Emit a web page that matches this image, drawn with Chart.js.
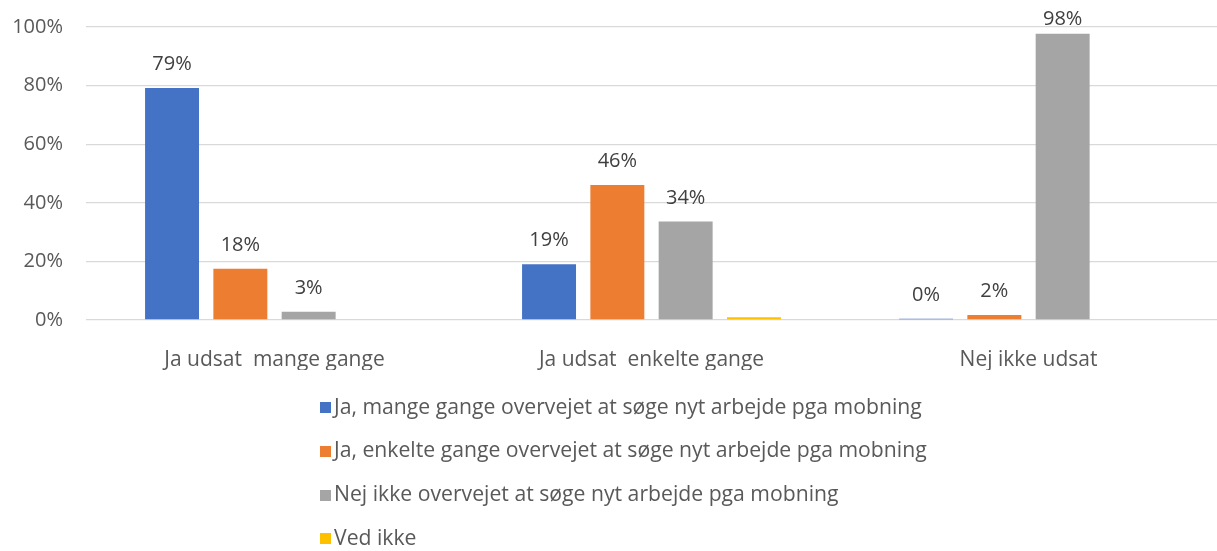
<!DOCTYPE html>
<html>
<head>
<meta charset="utf-8">
<script src="https://cdn.jsdelivr.net/npm/chart.js@4/dist/chart.umd.min.js"></script>
<style>
  html, body { margin: 0; padding: 0; background: #ffffff; }
  #wrap { width: 1217px; height: 551px; position: relative; }
</style>
</head>
<body>
<div id="wrap"><canvas id="c"></canvas></div>
<script>
const categories = ["Ja udsat  mange gange", "Ja udsat  enkelte gange", "Nej ikke udsat"];
const seriesNames = [
  "Ja, mange gange overvejet at søge nyt arbejde pga mobning",
  "Ja, enkelte gange overvejet at søge nyt arbejde pga mobning",
  "Nej ikke overvejet at søge nyt arbejde pga mobning",
  "Ved ikke"
];
const manyTimes = [79.2, 19.0, 0.4];
const fewTimes = [17.5, 46.1, 1.7];
const notConsidered = [2.8, 33.6, 97.7];
const dontKnow = [0, 0.9, 0];
const yTickValues = [0, 20, 40, 60, 80, 100];
const labelledSeries = [true, true, true, false];

const colors = ["#4472C4", "#ED7D31", "#A5A5A5", "#FFC000"];
const FONT = '"Open Sans", "Noto Sans", sans-serif';

const valueLabels = {
  id: 'valueLabels',
  afterDatasetsDraw(chart) {
    const ctx = chart.ctx;
    ctx.save();
    ctx.font = '20px ' + FONT;
    ctx.fillStyle = '#404040';
    ctx.textAlign = 'center';
    ctx.textBaseline = 'alphabetic';
    chart.data.datasets.forEach((ds, i) => {
      if (!labelledSeries[i]) return;
      const meta = chart.getDatasetMeta(i);
      meta.data.forEach((bar, j) => {
        const v = ds.data[j];
        const y = Math.max(bar.y - 18, 25);
        ctx.fillText(Math.round(v) + '%', bar.x, y);
      });
    });
    ctx.restore();
  }
};

const listLegend = {
  id: 'listLegend',
  afterDraw(chart) {
    const ctx = chart.ctx;
    const top = chart.chartArea.bottom + 87.5;
    ctx.save();
    ctx.font = '21.2px ' + FONT;
    ctx.textAlign = 'left';
    ctx.textBaseline = 'middle';
    chart.data.datasets.forEach((ds, i) => {
      const y = top + i * 43.8;
      ctx.fillStyle = ds.backgroundColor;
      ctx.fillRect(320, Math.round(y - 5.5), 11, 11);
      ctx.fillStyle = '#595959';
      ctx.fillText(ds.label, 334, y);
    });
    ctx.restore();
  }
};

const seriesData = [manyTimes, fewTimes, notConsidered, dontKnow];

new Chart(document.getElementById('c'), {
  type: 'bar',
  data: {
    labels: categories,
    datasets: seriesData.map((d, i) => ({
      label: seriesNames[i],
      data: d,
      backgroundColor: colors[i],
      borderWidth: 0,
      categoryPercentage: 0.7247,
      barPercentage: 0.79
    }))
  },
  options: {
    responsive: true,
    maintainAspectRatio: false,
    animation: false,
    layout: { padding: { top: 27, right: 0, bottom: 181, left: 0 } },
    plugins: {
      legend: { display: false },
      tooltip: { enabled: false },
      title: { display: false }
    },
    scales: {
      x: {
        grid: { display: false },
        border: { display: false },
        ticks: { color: '#595959', font: { size: 21, family: FONT }, padding: 19, maxRotation: 0 },
        afterFit(scale) { scale.height = 50; scale.paddingLeft = 0; scale.paddingRight = 0; }
      },
      y: {
        min: 0, max: 100,
        afterBuildTicks(scale) { scale.ticks = yTickValues.map(v => ({ value: v })); },
        grid: { color: '#D9D9D9', lineWidth: 1.3, drawTicks: false },
        border: { display: false },
        ticks: { color: '#595959', font: { size: 20, family: FONT }, padding: 23, callback: v => v + '%' },
        afterFit(scale) { scale.width = 86; scale.paddingTop = 0; scale.paddingBottom = 0; }
      }
    }
  },
  plugins: [valueLabels, listLegend]
});
</script>
</body>
</html>
